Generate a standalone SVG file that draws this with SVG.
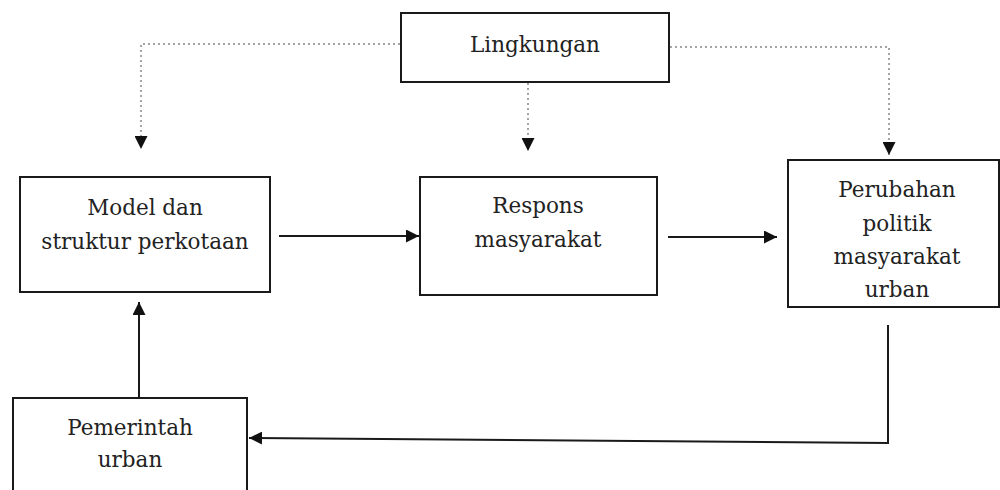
<svg xmlns="http://www.w3.org/2000/svg" width="1000" height="490" viewBox="0 0 1000 490">
<style>
.box{fill:#fff;stroke:#1a1a1a;stroke-width:2}
.lbl{font-family:"DejaVu Serif","Liberation Serif",serif;font-size:21.5px;fill:#222;text-anchor:middle}
.solid{fill:none;stroke:#1a1a1a;stroke-width:2}
.dot{fill:none;stroke:#888;stroke-width:1.5;stroke-dasharray:2 3}
</style>
<defs>
<marker id="ah" viewBox="0 0 10 10" refX="10" refY="5" markerWidth="13" markerHeight="13" markerUnits="userSpaceOnUse" orient="auto">
<path d="M0,0 L10,5 L0,10 Z" fill="#111"/>
</marker>
</defs>
<g id="connectors">
<path class="dot" d="M400,44 H141 V149" marker-end="url(#ah)"/>
<path class="dot" d="M528,83 V151" marker-end="url(#ah)"/>
<path class="dot" d="M670,47 H889 V155" marker-end="url(#ah)"/>
<path class="solid" d="M279,236 H419" marker-end="url(#ah)"/>
<path class="solid" d="M668,237 H777" marker-end="url(#ah)"/>
<path class="solid" d="M888,325 V443 L249,438" marker-end="url(#ah)"/>
<path class="solid" d="M139,397 V302" marker-end="url(#ah)"/>
</g>
<g id="lingkungan">
<rect class="box" x="401" y="13" width="268" height="69"/>
<text class="lbl" x="535" y="52">Lingkungan</text>
</g>
<g id="model">
<rect class="box" x="20" y="177" width="250" height="115"/>
<text class="lbl" x="145" y="215">Model dan</text>
<text class="lbl" x="145" y="249">struktur perkotaan</text>
</g>
<g id="respons">
<rect class="box" x="420" y="177" width="237" height="118"/>
<text class="lbl" x="538" y="213">Respons</text>
<text class="lbl" x="538" y="247">masyarakat</text>
</g>
<g id="perubahan">
<rect class="box" x="788" y="160" width="211" height="147"/>
<text class="lbl" x="897" y="197">Perubahan</text>
<text class="lbl" x="897" y="231">politik</text>
<text class="lbl" x="897" y="264">masyarakat</text>
<text class="lbl" x="897" y="297">urban</text>
</g>
<g id="pemerintah">
<rect class="box" x="13" y="398" width="234" height="100"/>
<text class="lbl" x="130" y="435">Pemerintah</text>
<text class="lbl" x="130" y="467">urban</text>
</g>
</svg>
